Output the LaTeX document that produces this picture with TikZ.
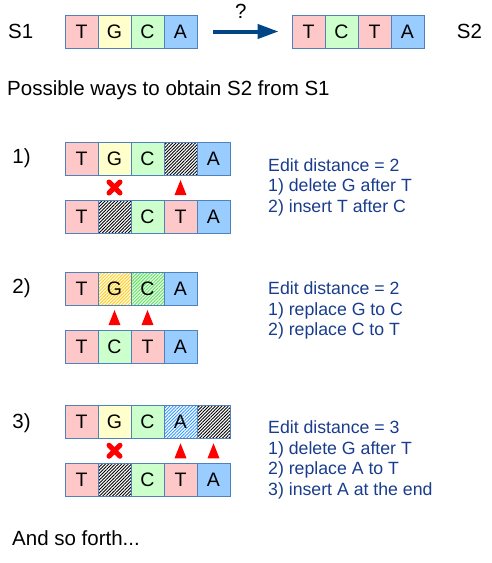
\documentclass[tikz,border=0pt]{standalone}
\usepackage{fontspec}
\setmainfont{Liberation Sans}
\usepackage{xcolor}
\usetikzlibrary{positioning}
\usetikzlibrary{calc}
\usetikzlibrary{patterns.meta}
\usetikzlibrary{arrows.meta}

\definecolor{boxline}{RGB}{79,129,189}
\definecolor{colT}{RGB}{255,200,200}
\definecolor{colG}{RGB}{255,255,204}
\definecolor{colC}{RGB}{204,255,204}
\definecolor{colA}{RGB}{153,204,255}
\definecolor{hatchG}{RGB}{255,204,51}
\definecolor{hatchC}{RGB}{102,221,102}
\definecolor{hatchA}{RGB}{51,153,255}
\definecolor{editblue}{RGB}{25,60,140}
\definecolor{arrowblue}{RGB}{0,69,134}

\tikzset{
	base/.style={draw=boxline,line width=0.8pt,minimum width=33pt,minimum height=33pt,inner sep=0pt,font=\fontsize{19.5}{20}\selectfont},
	bT/.style={base,fill=colT},
	bG/.style={base,fill=colG},
	bC/.style={base,fill=colC},
	bA/.style={base,fill=colA},
	lines/.style={pattern={Lines[angle=45,distance=2.3pt,line width=0.9pt]}},
	gap/.style={base,lines,pattern color=black,preaction={fill=white}},
	hG/.style={base,lines,pattern color=hatchG,preaction={fill=colG!60}},
	hC/.style={base,lines,pattern color=hatchC,preaction={fill=colC!50}},
	hA/.style={base,lines,pattern color=hatchA,preaction={fill=white}},
	txt/.style={inner sep=0pt,font=\fontsize{20.5}{24}\selectfont},
	edit/.style={inner sep=0pt,align=left,text=editblue,font=\fontsize{17.7}{20.5}\selectfont}
}

\begin{document}
\begin{tikzpicture}[x=1pt,y=-1pt]
		\useasboundingbox (0,0) rectangle (491,563);
		%Strings
			\node[txt,anchor=west] (lab1) at (8,31.5) {S1};
			\node[txt] (lab2) at (469.5,31.5) {S2};
			\foreach \l/\s [count=\i] in {T/bT,G/bG,C/bC,A/bA}
				\node[\s] (s1\i) at ({48.5+33*\i},31.5) {\l};
			\foreach \l/\s [count=\i] in {T/bT,C/bC,T/bT,A/bA}
				\node[\s] (s2\i) at ({275.5+33*\i},31.5) {\l};
			\draw[-{Triangle[length=21pt,width=14pt]},line width=4pt,arrowblue,shorten <=16pt,shorten >=13pt] (s14) -- (s21)
				node[pos=.46,above=11pt,inner sep=0pt,text=black,font=\fontsize{20.5}{24}\selectfont] (ask) {?};
			\node[txt,anchor=base west] (ways) at (7,95) {Possible ways to obtain S2 from S1};
		%Way 1
			\node[txt] (n1) at (21.5,158.5) {1)};
			\foreach \l/\s [count=\i] in {T/bT,G/bG,C/bC,{}/gap,A/bA}
				\node[\s] (r1t\i) at ({48.5+33*\i},158.5) {\l};
			\foreach \l/\s [count=\i] in {T/bT,{}/gap,C/bC,T/bT,A/bA}
				\node[\s] (r1b\i) at ({48.5+33*\i},216.5) {\l};
			\node[edit,anchor=base west] (e1) at (268,212) {Edit distance = 2\\1) delete G after T\\2) insert T after C};
		%Way 2
			\node[txt] (n2) at (21.5,288.5) {2)};
			\foreach \l/\s [count=\i] in {T/bT,G/hG,C/hC,A/bA}
				\node[\s] (r2t\i) at ({48.5+33*\i},288.5) {\l};
			\foreach \l/\s [count=\i] in {T/bT,C/bC,T/bT,A/bA}
				\node[\s] (r2b\i) at ({48.5+33*\i},346.5) {\l};
			\node[edit,anchor=base west] (e2) at (268,335.5) {Edit distance = 2\\1) replace G to C\\2) replace C to T};
		%Way 3
			\node[txt] (n3) at (21.5,423) {3)};
			\foreach \l/\s [count=\i] in {T/bT,G/bG,C/bC,A/hA,{}/gap}
				\node[\s] (r3t\i) at ({48.5+33*\i},421.5) {\l};
			\foreach \l/\s [count=\i] in {T/bT,{}/gap,C/bC,T/bT,A/bA}
				\node[\s] (r3b\i) at ({48.5+33*\i},480) {\l};
			\node[edit,anchor=base west] (e3) at (268,495) {Edit distance = 3\\1) delete G after T\\2) replace A to T\\3) insert A at the end};
		%Deletions
			\foreach \a/\b in {r1t2/r1b2,r3t2/r3b2}
			{
				\draw[red,line width=5pt,line cap=round] ($(\a.south)!.5!(\b.north)+(-5.5,-5.5)$) -- ++(11,11)
					($(\a.south)!.5!(\b.north)+(5.5,-5.5)$) -- ++(-11,11);
			}
		%Insertions and replacements
			\foreach \a/\b in {r1t4/r1b4,r2t2/r2b2,r2t3/r2b3,r3t4/r3b4,r3t5/r3b5}
			{
				\fill[red] ($(\a.south)!.5!(\b.north)+(0,-7.5)$) -- ++(6,15) -- ++(-12,0) -- cycle;
			}
		\node[txt,anchor=base west] (more) at (12,545.5) {And so forth...};
	\end{tikzpicture}
\end{document}
